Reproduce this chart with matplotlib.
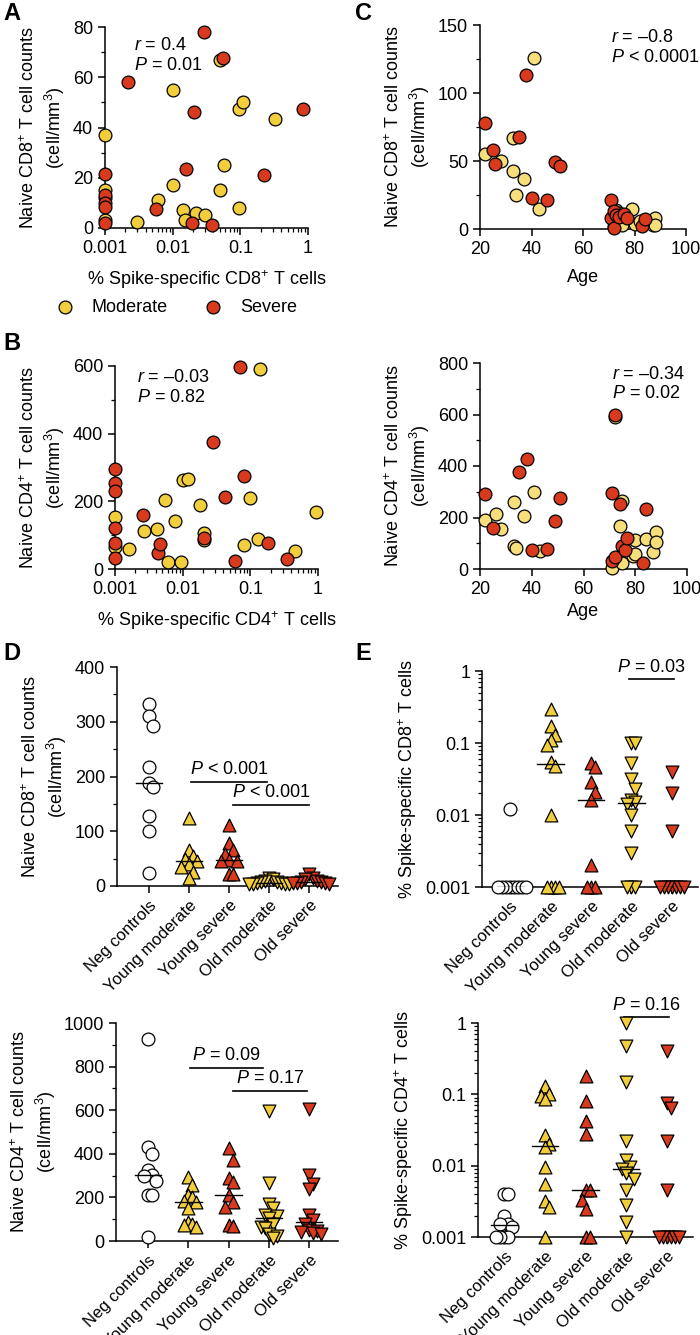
import numpy as np
import matplotlib
matplotlib.use("Agg")
import matplotlib.pyplot as plt
from matplotlib.ticker import MultipleLocator, LogLocator, NullFormatter, FixedLocator

plt.rcParams['font.family'] = ['Liberation Sans', 'DejaVu Sans']
plt.rcParams['mathtext.fontset'] = 'custom'
plt.rcParams['mathtext.rm'] = 'Liberation Sans'
plt.rcParams['mathtext.it'] = 'Liberation Sans:italic'
plt.rcParams['font.size'] = 11.5

YEL = '#F3CE3C'
YEL2 = '#F6DE7A'
RED = '#D93A1E'

# ---------------- data ----------------
A_mod_x = [0.001,0.001,0.001,0.001,0.003,0.006,0.01,0.01,0.014,0.015,0.022,0.03,0.05,0.05,0.058,0.095,0.095,0.11,0.32]
A_mod_y = [37,15,12,3,2.5,11,17,55,7,3,6,5,67,15,25,8,47.5,50,43.5]
A_sev_x = [0.001,0.001,0.001,0.001,0.001,0.0022,0.0057,0.016,0.019,0.021,0.029,0.038,0.055,0.22,0.85]
A_sev_y = [21.5,13,10,8.5,2,58,7.5,23.5,2,46,78,1,67.5,21,47.5]

B_mod_x = [0.001,0.001,0.0016,0.0027,0.0042,0.0055,0.006,0.0076,0.0095,0.01,0.012,0.018,0.021,0.021,0.08,0.1,0.13,0.14,0.45,0.95]
B_mod_y = [155,65,60,112,118,205,22,143,22,262,266,188,105,85,70,210,88,590,52,167]
B_sev_x = [0.001,0.001,0.001,0.001,0.001,0.001,0.0026,0.0043,0.0047,0.021,0.028,0.042,0.06,0.071,0.08,0.18,0.35]
B_sev_y = [295,255,232,120,78,32,160,48,75,92,376,212,25,597,276,78,30]

C8_mod_age = [22,28,33,33,34,37,41,43,72,73,75,79,80,82,87,88,88,76,74]
C8_mod_y = [55,50,67,43,25,37,126,15,2,14,3,15,4,6,3,8,3,10,12]
C8_sev_age = [22,25,26,35,38,40,46,49,51,71,71,72,72,73,74,76,77,83,84]
C8_sev_y = [78,58,48,68,113,23,21,49,46,21,8,13,1,10,9,11,8,2,7]

C4_mod_age = [22,26,28,33,33,34,37,41,43,72,71,74,75,75,79,80,80,84,87,88,88]
C4_mod_y = [190,212,155,262,90,82,205,298,70,590,5,168,265,22,50,60,112,118,65,142,105]
C4_sev_age = [22,25,35,38,40,46,49,51,71,72,71,72,74,75,76,77,83,84]
C4_sev_y = [293,160,378,428,75,78,185,275,295,597,30,45,252,90,75,120,25,232]

groups = ['Neg controls', 'Young moderate', 'Young severe', 'Old moderate', 'Old severe']

D8 = [[332,310,292,218,188,180,127,100,23],
      [125,65,55,50,45,40,35,25,15],
      [112,78,65,58,48,45,45,22,22],
      [14,12,10,8,7,6,5,4,4,3,3],
      [22,15,12,10,8,7,6,5,5,4]]
D4 = [[928,432,400,325,303,300,275,210,210,18],
      [295,258,210,200,185,180,150,85,80,75,65],
      [425,372,290,270,210,180,155,75,70],
      [598,268,170,150,120,115,105,80,65,60,30,25,15],
      [605,302,262,240,120,95,80,50,45,40,35,30]]
E8 = [[0.012,0.001,0.001,0.001,0.001,0.001,0.001,0.001,0.001],
      [0.3,0.17,0.13,0.11,0.095,0.055,0.048,0.01,0.001,0.001,0.001,0.001],
      [0.052,0.047,0.029,0.021,0.016,0.002,0.001,0.001,0.001],
      [0.1,0.1,0.052,0.032,0.023,0.016,0.015,0.014,0.01,0.006,0.003,0.001,0.001,0.001],
      [0.04,0.02,0.006,0.001,0.001,0.001,0.001,0.001,0.001,0.001]]
E4 = [[0.004,0.004,0.002,0.0015,0.0015,0.0014,0.001,0.001,0.001,0.001],
      [0.13,0.1,0.095,0.085,0.027,0.02,0.018,0.0095,0.0055,0.0032,0.0026,0.001],
      [0.18,0.08,0.042,0.028,0.0045,0.0045,0.0033,0.0025,0.001,0.001],
      [1.0,0.48,0.15,0.022,0.012,0.0095,0.009,0.008,0.0065,0.0045,0.0028,0.0016,0.001],
      [0.4,0.075,0.065,0.022,0.0045,0.001,0.001,0.001,0.001,0.001,0.001]]

W, H = 700, 1335
fig = plt.figure(figsize=(W/100, H/100), dpi=100)

def axes_px(x0, x1, ytop, ybot):
    return fig.add_axes([x0/W, 1-ybot/H, (x1-x0)/W, (ybot-ytop)/H])

def style(ax):
    for s in ['top', 'right']:
        ax.spines[s].set_visible(False)
    ax.spines['left'].set_linewidth(1.1)
    ax.spines['bottom'].set_linewidth(1.1)
    ax.tick_params(direction='out', length=5, width=1.1, labelsize=13)
    ax.tick_params(which='minor', direction='out', length=3, width=0.9)

S = 85
def scat(ax, x, y, c):
    ax.scatter(x, y, s=S, c=c, edgecolors='black', linewidths=0.9, zorder=3, clip_on=False)

def logx(ax):
    ax.set_xscale('log')
    ax.set_xlim(0.001, 1)
    ax.xaxis.set_major_locator(FixedLocator([0.001, 0.01, 0.1, 1]))
    ax.set_xticklabels(['0.001', '0.01', '0.1', '1'])
    ax.xaxis.set_minor_locator(LogLocator(base=10, subs=np.arange(2, 10)))
    ax.xaxis.set_minor_formatter(NullFormatter())

ylab8 = 'Naive CD8$^{+}$ T cell counts\n(cell/mm$^{3}$)'
ylab4 = 'Naive CD4$^{+}$ T cell counts\n(cell/mm$^{3}$)'
LF = 13

# Panel A
ax = axes_px(105, 308, 27, 228)
style(ax); logx(ax)
ax.set_ylim(0, 80); ax.yaxis.set_major_locator(MultipleLocator(20)); ax.yaxis.set_minor_locator(MultipleLocator(10))
scat(ax, A_mod_x, A_mod_y, YEL); scat(ax, A_sev_x, A_sev_y, RED)
ax.set_ylabel(ylab8, fontsize=LF, linespacing=1.3)
ax.set_xlabel('% Spike-specific CD8$^{+}$ T cells', fontsize=LF, labelpad=8)
ax.text(0.0027, 76, '$\\it{r}$ = 0.4\n$\\it{P}$ = 0.01', fontsize=LF, va='top', linespacing=1.2)
h1 = ax.scatter([], [], s=S, c=YEL, edgecolors='black', linewidths=0.9)
h2 = ax.scatter([], [], s=S, c=RED, edgecolors='black', linewidths=0.9)
fig.legend([h1, h2], ['Moderate', 'Severe'], loc='center', bbox_to_anchor=(172/W, 1-307/H), ncol=2,
           frameon=False, fontsize=LF, handletextpad=0.5, columnspacing=1.5)

# Panel B
ax = axes_px(115, 318, 366, 569)
style(ax); logx(ax)
ax.set_ylim(0, 600); ax.yaxis.set_major_locator(MultipleLocator(200)); ax.yaxis.set_minor_locator(MultipleLocator(100))
scat(ax, B_mod_x, B_mod_y, YEL); scat(ax, B_sev_x, B_sev_y, RED)
ax.set_ylabel(ylab4, fontsize=LF, linespacing=1.3)
ax.set_xlabel('% Spike-specific CD4$^{+}$ T cells', fontsize=LF, labelpad=8)
ax.text(0.0021, 590, '$\\it{r}$ = \u20130.03\n$\\it{P}$ = 0.82', fontsize=LF, va='top', linespacing=1.2)

# Panel C top
ax = axes_px(480, 686, 25, 229)
style(ax)
ax.set_xlim(20, 100); ax.xaxis.set_major_locator(MultipleLocator(20))
ax.set_ylim(0, 150); ax.yaxis.set_major_locator(MultipleLocator(50)); ax.yaxis.set_minor_locator(MultipleLocator(25))
scat(ax, C8_mod_age, C8_mod_y, YEL2); scat(ax, C8_sev_age, C8_sev_y, RED)
ax.set_ylabel(ylab8, fontsize=LF, linespacing=1.3)
ax.set_xlabel('Age', fontsize=LF, labelpad=8)
ax.text(71, 147, '$\\it{r}$ = \u20130.8\n$\\it{P}$ < 0.0001', fontsize=LF, va='top', linespacing=1.2)

# Panel C bottom
ax = axes_px(480, 687, 363, 569)
style(ax)
ax.set_xlim(20, 100); ax.xaxis.set_major_locator(MultipleLocator(20))
ax.set_ylim(0, 800); ax.yaxis.set_major_locator(MultipleLocator(200)); ax.yaxis.set_minor_locator(MultipleLocator(100))
scat(ax, C4_mod_age, C4_mod_y, YEL2); scat(ax, C4_sev_age, C4_sev_y, RED)
ax.set_ylabel(ylab4, fontsize=LF, linespacing=1.3)
ax.set_xlabel('Age', fontsize=LF, labelpad=4)
ax.text(71, 790, '$\\it{r}$ = \u20130.34\n$\\it{P}$ = 0.02', fontsize=LF, va='top', linespacing=1.2)

# Category panels
fills = ['white', YEL, RED, YEL, RED]
marks = ['o', '^', '^', 'v', 'v']

def swarm(ax, data, step=4.0, rx=4.0, ry=12.0):
    fig.canvas.draw()
    for i, vals in enumerate(data):
        placed = []
        xs = []
        for v in vals:
            px0, py = ax.transData.transform((i, v))
            cands = [0.0]
            for j in range(1, 30):
                cands += [j*step, -j*step]
            for off in cands:
                if all(((off-po)/rx)**2 + ((py-pp)/ry)**2 >= 0.999 for po, pp in placed):
                    break
            placed.append((off, py))
            xs.append(ax.transData.inverted().transform((px0+off, py))[0])
        ax.scatter(xs, vals, s=S, marker=marks[i], c=fills[i], edgecolors='black',
                   linewidths=0.9, zorder=3, clip_on=False)
        ax.plot([i-0.33, i+0.33], [np.median(vals)]*2, color='black', lw=1, zorder=4)

def cat_axis(ax):
    ax.set_xlim(-0.8, 4.72)
    ax.set_xticks(range(5))
    ax.set_xticklabels(groups, rotation=45, ha='right', rotation_mode='anchor', fontsize=12)

def pbar(ax, x0, x1, y, txt, ytxt):
    ax.plot([x0, x1], [y, y], color='black', lw=1.2, clip_on=False)
    ax.text((x0+x1)/2, ytxt, txt, ha='center', va='bottom', fontsize=LF, clip_on=False)

# D top
ax = axes_px(117, 338, 667, 886)
style(ax); cat_axis(ax)
ax.set_ylim(0, 400); ax.yaxis.set_major_locator(MultipleLocator(100)); ax.yaxis.set_minor_locator(MultipleLocator(50))
ax.set_ylabel(ylab8, fontsize=LF, linespacing=1.3)
swarm(ax, D8)
pbar(ax, 1.05, 2.95, 190, '$\\it{P}$ < 0.001', 197)
pbar(ax, 2.1, 4.0, 148, '$\\it{P}$ < 0.001', 155)

# D bottom
ax = axes_px(116, 338, 1023, 1241)
style(ax); cat_axis(ax)
ax.set_ylim(0, 1000); ax.yaxis.set_major_locator(MultipleLocator(200)); ax.yaxis.set_minor_locator(MultipleLocator(100))
ax.set_ylabel(ylab4, fontsize=LF, linespacing=1.3)
swarm(ax, D4)
pbar(ax, 1.05, 2.85, 795, '$\\it{P}$ = 0.09', 812)
pbar(ax, 2.1, 3.95, 690, '$\\it{P}$ = 0.17', 707)

def log_y(ax):
    ax.set_yscale('log')
    ax.set_ylim(0.001, 1)
    ax.yaxis.set_major_locator(FixedLocator([0.001, 0.01, 0.1, 1]))
    ax.set_yticklabels(['0.001', '0.01', '0.1', '1'])
    ax.yaxis.set_minor_locator(LogLocator(base=10, subs=np.arange(2, 10)))
    ax.yaxis.set_minor_formatter(NullFormatter())

# E top
ax = axes_px(482, 698, 671, 887)
style(ax); cat_axis(ax); ax.set_xlim(-0.7, 4.65)
log_y(ax)
ax.set_ylabel('% Spike-specific CD8$^{+}$ T cells', fontsize=LF)
swarm(ax, E8)
pbar(ax, 2.95, 4.05, 0.78, '$\\it{P}$ = 0.03', 0.86)

# E bottom
ax = axes_px(478, 693, 1023, 1237)
style(ax); cat_axis(ax); ax.set_xlim(-0.65, 4.65)
log_y(ax)
ax.set_ylabel('% Spike-specific CD4$^{+}$ T cells', fontsize=LF)
swarm(ax, E4)
pbar(ax, 2.95, 4.05, 1.22, '$\\it{P}$ = 0.16', 1.32)

for lab, x, y in [('A', 3, 2), ('B', 3, 332), ('C', 355, 2), ('D', 3, 642), ('E', 355, 642)]:
    fig.text(x/W, 1-y/H, lab, fontsize=17, fontweight='bold', va='top', ha='left')

fig.savefig('out.png', dpi=100)
